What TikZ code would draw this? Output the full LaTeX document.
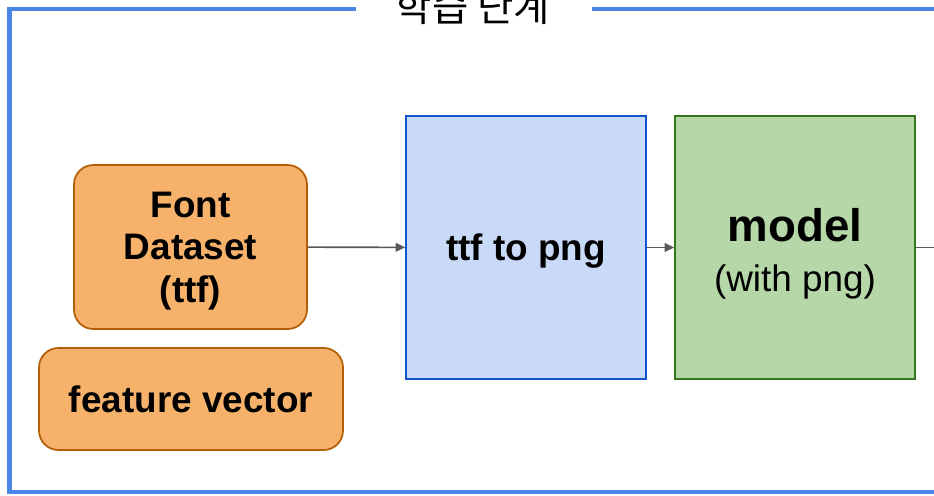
\documentclass[tikz,border=0pt]{standalone}
\usepackage{xcolor}
\usepackage{fontspec}
\setmainfont{Liberation Sans}
\newfontfamily\kofont{Noto Sans CJK KR}
\usetikzlibrary{arrows.meta}
\definecolor{frameblue}{HTML}{4A86E8}
\definecolor{boxorange}{HTML}{F6B26B}
\definecolor{lineorange}{HTML}{B45F06}
\definecolor{boxblue}{HTML}{C9DAF8}
\definecolor{lineblue}{HTML}{1155CC}
\definecolor{boxgreen}{HTML}{B6D7A8}
\definecolor{linegreen}{HTML}{38761D}
\definecolor{arrowgray}{HTML}{595959}
\newcommand{\toppad}[1]{\rule{0pt}{#1}}
\tikzset{>={Triangle[length=5.5pt,width=5pt]}}
\tikzset{
  databox/.style={draw=lineorange, fill=boxorange, line width=1pt, rounded corners=11pt, align=center,
    font=\fontsize{21}{24.4}\selectfont\bfseries},
  stagebox/.style={line width=0.9pt, minimum width=4.8cm, minimum height=5.26cm, align=center},
  flow/.style={->, arrowgray, line width=0.9pt}
}

\begin{document}
\begin{tikzpicture}[x=0.02cm, y=-0.02cm]
    \useasboundingbox (0,0) rectangle (934,495);

    % frame around the training step
    \draw[frameblue, line width=2.4pt] (356,9)--(9.5,9)--(9.5,492)--(945,492);
    \draw[frameblue, line width=2.4pt] (592,9)--(945,9);
    \node[font=\kofont\fontsize{22.5}{26}\selectfont] at (473,7) (title) {학습 단계};

    % inputs
    \node[databox, minimum width=4.66cm, minimum height=3.28cm] at (190.5,247) (data)
        {\toppad{19pt}Font\\Dataset\\(ttf)};
    \node[databox, minimum width=6.08cm, minimum height=2.04cm] at (191,399) (feat)
        {feature vector};

    % stages
    \node[stagebox, draw=lineblue, fill=boxblue, font=\fontsize{21}{25}\selectfont\bfseries, text height=19pt] at (526,247.5) (conv)
        {ttf to png};
    \node[stagebox, draw=linegreen, fill=boxgreen, font=\fontsize{21}{28}\selectfont] at (795,247.5) (model)
        {{\fontsize{26}{28}\selectfont\bfseries\toppad{26pt}model}\\(with png)};
    \coordinate (out) at (950,247.5);

    \draw[flow] (data) -- (conv);
    \draw[flow] (conv) -- (model);
    \draw[flow] (model) -- (out);
\end{tikzpicture}
\end{document}
